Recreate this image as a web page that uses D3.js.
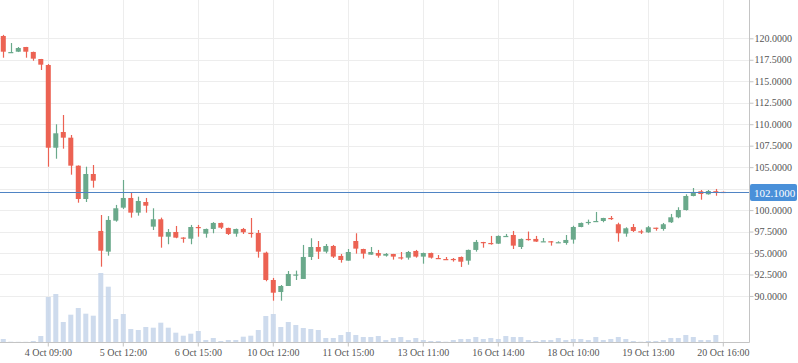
<!DOCTYPE html>
<html>
<head>
  <meta charset="utf-8">
  <meta name="viewport" content="width=device-width">
<style type="text/css">
  body { margin: 0; background: #fff; }
  text { font-family: "Liberation Serif", serif; }
</style>
</head>
<body>
<script src="https://cdn.jsdelivr.net/npm/d3@7"></script>
<script>
  var w = 798;
  var h = 363;
  var plotW = 749;
  var plotH = 342;

  var opens  = [120.27,118.35,118.44,118.99,118.41,117.59,116.89,107.26,109.09,108.43,105.17,101.29,104.2,97.57,95.16,98.77,100.28,101.41,99.70,100.94,
                98.07,98.93,96.90,97.45,96.80,96.67,98.03,97.25,97.80,98.50,97.92,97.25,97.80,97.35,97.33,95.04,91.86,90.46,91.16,92.45,
                91.98,94.54,95.70,95.16,95.82,94.66,94.11,96.40,95.47,94.81,95.00,94.69,94.89,94.50,94.46,95.24,94.58,95.00,94.42,94.30,
                94.31,94.54,94.11,95.36,96.28,96.17,96.09,96.95,97.10,95.70,96.64,96.64,96.34,96.37,96.22,96.17,96.56,98.03,98.60,98.71,
                98.73,99.08,98.35,97.26,98.03,97.53,97.41,97.95,97.80,98.58,99.16,100.01,101.64,102.19,101.84,102.20,102.12];
  var highs  = [120.4,119.45,118.99,119.0,118.45,117.6,117.0,109.99,111.07,108.74,105.2,105.05,105.25,99.43,99.3,100.6,103.5,102.03,101.56,101.41,
                100.21,99.12,97.80,98.15,96.84,98.27,98.27,97.85,98.60,98.55,97.95,97.85,97.92,99.08,97.68,95.16,92.10,91.28,92.91,92.95,
                95.94,96.72,96.40,96.05,95.94,94.89,95.47,97.30,95.50,95.70,95.36,95.00,94.90,95.12,95.24,95.36,95.05,95.05,94.77,94.54,
                94.42,94.60,95.40,96.52,96.30,96.99,97.05,97.22,97.57,96.70,97.50,96.99,96.75,96.40,96.37,97.10,98.18,98.55,98.89,99.78,
                99.10,99.31,98.53,98.00,98.38,97.72,98.15,97.95,98.50,99.55,100.33,101.84,102.57,102.34,102.34,102.46,102.15];
  var lows   = [117.74,118.3,118.4,117.74,117.39,116.31,105.05,105.98,107.15,104.12,100.86,100.94,102.61,93.41,94.69,98.65,100.13,99.12,99.35,99.70,
                97.68,95.62,96.02,96.72,96.20,96.02,96.90,96.79,97.30,97.80,97.10,96.90,97.22,96.79,94.46,91.71,89.45,89.45,91.16,91.86,
                91.98,94.19,94.31,94.97,94.42,93.88,94.10,94.93,94.35,94.80,94.46,94.58,94.23,94.23,94.23,94.46,93.76,94.35,94.35,94.23,
                94.00,93.38,93.64,95.16,95.62,95.97,96.05,96.90,95.47,95.47,96.45,96.30,96.30,95.86,96.20,95.97,96.09,98.00,98.30,98.70,
                98.58,98.85,96.32,96.90,97.45,97.22,97.35,97.60,97.60,98.50,99.05,99.95,101.60,101.21,101.80,101.67,102.05];
  var closes = [118.44,118.4,118.87,118.44,117.63,116.93,107.26,108.94,108.43,105.17,101.29,104.2,103.42,95.27,98.85,100.21,101.41,99.70,101.06,100.51,
                98.93,96.90,97.45,96.79,96.72,98.03,98.0,97.80,98.50,97.95,97.22,97.80,97.42,97.30,95.16,91.86,90.38,91.16,92.56,92.50,
                94.54,95.70,95.16,95.82,94.58,94.19,95.12,95.51,94.93,95.12,94.69,94.89,94.58,94.46,95.12,94.58,95.00,94.46,94.38,94.27,
                94.27,93.99,95.36,96.29,96.25,96.13,96.99,96.99,95.86,96.64,96.60,96.33,96.37,96.34,96.26,96.52,98.03,98.50,98.62,98.73,
                99.08,99.05,97.30,97.88,97.57,97.49,98.00,97.92,98.35,99.16,100.01,101.64,102.11,101.87,102.22,102.17,102.10];
  var volumes = [30,3,2,2,10,60,450,480,200,273,340,283,263,690,553,230,280,130,120,150,
                 143,193,143,93,63,83,110,20,40,10,20,20,53,63,120,260,280,150,200,170,
                 140,130,120,40,40,70,100,70,50,50,60,20,40,50,20,40,20,10,10,3,
                 20,30,30,50,30,40,30,60,50,50,20,10,20,20,40,20,30,30,20,50,
                 20,30,50,30,10,3,10,10,20,40,40,70,50,20,20,70,0];

  var xTickIndex  = [6,16,26,36,46,56,66,76,86,96];
  var xTickLabels = ["4 Oct 09:00","5 Oct 12:00","6 Oct 15:00","10 Oct 12:00","11 Oct 15:00",
                     "13 Oct 11:00","16 Oct 14:00","18 Oct 10:00","19 Oct 13:00","20 Oct 16:00"];
  var gridTicks = [90,92.5,95,97.5,100,102.5,105,107.5,110,112.5,115,117.5,120];
  // 102.5 sits under the last-price badge, so it gets no label
  var yTicks = [90,92.5,95,97.5,100,105,107.5,110,112.5,115,117.5,120];
  var lastPrice = 102.1;

  var up = "#6aa98b";
  var down = "#ec6253";

  var svg = d3.select("body").append("svg")
              .attr("width", w)
              .attr("height", h);

  var x = d3.scaleBand()
            .domain(d3.range(opens.length))
            .range([-1.7, 728.3])
            .padding(0.33);

  var y = d3.scaleLinear()
            .domain([84.64, 124.46])
            .range([plotH, 0]);

  var yVol = d3.scaleLinear()
               .domain([0, 700])
               .range([plotH, plotH - 70]);

  // grid
  svg.append("g").selectAll("line")
     .data(gridTicks).enter().append("line")
     .attr("x1", 0).attr("x2", plotW)
     .attr("y1", function (d) { return Math.round(y(d)) + 0.5; })
     .attr("y2", function (d) { return Math.round(y(d)) + 0.5; })
     .attr("stroke", "#ededed");

  svg.append("g").selectAll("line")
     .data(xTickIndex).enter().append("line")
     .attr("x1", function (d) { return Math.round(x(d) + x.bandwidth() / 2) + 0.5; })
     .attr("x2", function (d) { return Math.round(x(d) + x.bandwidth() / 2) + 0.5; })
     .attr("y1", 0).attr("y2", plotH)
     .attr("stroke", "#ededed");

  // volume
  svg.append("g").selectAll("rect")
     .data(volumes).enter().append("rect")
     .attr("x", function (d, i) { return x(i); })
     .attr("width", x.bandwidth())
     .attr("y", function (d) { return yVol(d); })
     .attr("height", function (d) { return plotH - yVol(d); })
     .attr("fill", "#c5d5ea")
     .attr("opacity", 0.85);

  // candles
  var candle = svg.append("g").selectAll("g")
     .data(opens).enter().append("g");

  candle.append("line")
     .attr("x1", function (d, i) { return Math.round(x(i) + x.bandwidth() / 2) + 0.5; })
     .attr("x2", function (d, i) { return Math.round(x(i) + x.bandwidth() / 2) + 0.5; })
     .attr("y1", function (d, i) { return y(highs[i]); })
     .attr("y2", function (d, i) { return y(lows[i]); })
     .attr("stroke", function (d, i) { return closes[i] >= opens[i] ? up : down; })
     .attr("stroke-width", 1.2);

  candle.append("rect")
     .attr("x", function (d, i) { return x(i); })
     .attr("width", x.bandwidth())
     .attr("y", function (d, i) { return y(Math.max(opens[i], closes[i])); })
     .attr("height", function (d, i) { return Math.max(1.2, Math.abs(y(opens[i]) - y(closes[i]))); })
     .attr("fill", function (d, i) { return closes[i] >= opens[i] ? up : down; });

  // axes
  var yAxis = d3.axisRight(y)
                .tickValues(yTicks)
                .tickSize(4)
                .tickPadding(1)
                .tickFormat(d3.format(".4f"));

  var gy = svg.append("g")
     .attr("transform", "translate(" + (plotW + 0.5) + ",0)")
     .call(yAxis);
  gy.select(".domain").attr("d", "M0,0V" + (plotH + 0.5)).attr("stroke", "#c4c4c4");
  gy.selectAll(".tick line").attr("stroke", "#c4c4c4");
  gy.selectAll(".tick text").attr("fill", "#555").style("font-size", "10px")
    .style("font-family", "'Liberation Serif', serif");

  var xAxis = d3.axisBottom(x)
                .tickValues(xTickIndex)
                .tickSize(4)
                .tickPadding(2)
                .tickFormat(function (d) { return xTickLabels[xTickIndex.indexOf(d)]; });

  var gx = svg.append("g")
     .attr("transform", "translate(0," + (plotH + 0.5) + ")")
     .call(xAxis);
  gx.select(".domain").attr("d", "M0,0H" + (plotW + 0.5)).attr("stroke", "#c4c4c4");
  gx.selectAll(".tick line").attr("stroke", "#c4c4c4");
  gx.selectAll(".tick text").attr("fill", "#555").style("font-size", "10px")
    .style("font-family", "'Liberation Serif', serif");

  // last price
  var py = Math.round(y(lastPrice)) + 0.5;
  svg.append("line")
     .attr("x1", 0).attr("x2", plotW)
     .attr("y1", py).attr("y2", py)
     .attr("stroke", "#4f84c4");

  svg.append("rect")
     .attr("x", plotW + 1)
     .attr("y", py - 8.5)
     .attr("width", 47)
     .attr("height", 17)
     .attr("rx", 2)
     .attr("fill", "#4a90d9");

  svg.append("text")
     .attr("x", plotW + 5)
     .attr("y", py + 4)
     .attr("fill", "#fff")
     .style("font-size", "11px")
     .text(d3.format(".4f")(lastPrice));
</script>
</body>
</html>
